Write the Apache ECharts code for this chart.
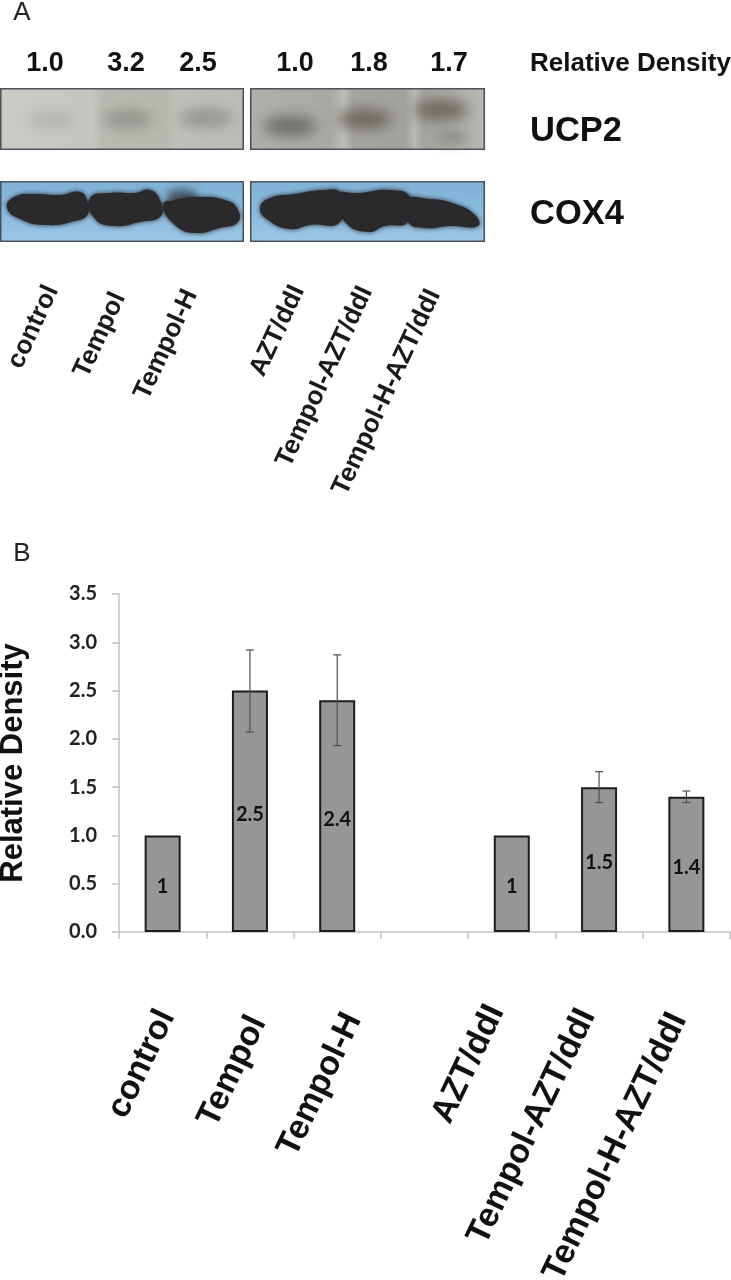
<!DOCTYPE html>
<html>
<head>
<meta charset="utf-8">
<style>html,body{margin:0;padding:0;background:#fff}#c{width:731px;height:1280px}</style>
<script src="https://cdn.jsdelivr.net/npm/echarts@6/dist/echarts.min.js"></script>
</head>
<body>
<div id="c"></div>
<script>
const categories = ['control','Tempol','Tempol-H','','AZT/ddI','Tempol-AZT/ddI','Tempol-H-AZT/ddI'];
const values = [1, 2.5, 2.4, null, 1, 1.5, 1.4];
const errLow = [null, 2.07, 1.93, null, null, 1.34, 1.34];
const errHigh = [null, 2.92, 2.87, null, null, 1.66, 1.46];
const blotValues = ['1.0','3.2','2.5','1.0','1.8','1.7'];
const blotLabelX = [45,126,198,295,369,449];
const blotLanes = ['control','Tempol','Tempol-H','AZT/ddI','Tempol-AZT/ddI','Tempol-H-AZT/ddI'];
const laneEndX = [52,119,191,298,366,434];
const laneEndY = [287,294,291,287,288,291];
const catLabelDx = [4,8,16,0,-16,-12,-8];
const catLabelDy = [80,86,83,0,75,79,83];

const chart = echarts.init(document.getElementById('c'), null, {renderer:'canvas'});
const SANS = '"Liberation Sans", Arial, sans-serif';
const LG = (stops, horiz=true) => new echarts.graphic.LinearGradient(0,0,horiz?1:0,horiz?0:1,
  stops.map((c)=>({offset:c[0],color:c[1]})));

function panel(x,y,w,h,fill){
  return {type:'rect',z:1,shape:{x:x+.75,y:y+.75,width:w-1.5,height:h-1.5},
    style:{fill,stroke:'#4e5358',lineWidth:1.6}};
}
// soft band: only the shadow of an off-canvas ellipse lands on the blot
function band(cx,cy,rx,ry,color,blur,opacity=1){
  return {type:'ellipse',z:2,x:cx-3000,y:cy,shape:{cx:0,cy:0,rx,ry},
    style:{fill:color,opacity,shadowBlur:blur,shadowColor:color,shadowOffsetX:3000}};
}
function blob(points,color='#2a2a2d',blur=5){
  return {type:'polygon',z:2,shape:{points,smooth:0.5},style:{fill:color,shadowBlur:blur,shadowColor:color}};
}
function label(text,x,y,size,opt={}){
  return {type:'text',z:5,x,y,rotation:opt.rot||0,
    style:{text,fontFamily:SANS,fontSize:size,fontWeight:opt.weight||'bold',fill:opt.color||'#111',
      align:opt.align||'center',verticalAlign:'middle'}};
}
const rad = d => d*Math.PI/180;

const g = [];
// UCP2 blot
g.push(panel(0,88,244,62,LG([[0,'#cbcbc6'],[.38,'#c6c6c0'],[.42,'#b9b9b2'],[.68,'#b8b8b1'],[.72,'#c0c0ba'],[1,'#bbbbb5']])));
g.push(panel(250,88,235,62,LG([[0,'#b0b0aa'],[.34,'#a9a9a3'],[.4,'#bdbdb7'],[.44,'#a5a59f'],[.66,'#a3a39d'],[.7,'#b8b8b2'],[.74,'#a3a39d'],[1,'#b8b8b2']])));
g.push(band(52,120,24,8,'#adada7',14,.8));
g.push(band(128,119,25,9,'#8f8f89',14,.9));
g.push(band(205,118,27,9,'#8f8f89',14,.9));
g.push(band(290,126,27,10,'#6e6e68',14,1));
g.push(band(365,119,27,10,'#6d6760',14,1));
g.push(band(441,110,27,10,'#6d6760',14,1));
g.push(band(452,137,16,7,'#8a8a84',12,.9));
// COX4 blot
g.push(panel(0,181,244,61,LG([[0,'#7fb2d8'],[.5,'#8abae0'],[1,'#9cc7e6']],false)));
g.push(panel(250,181,235,61,LG([[0,'#7fb2d8'],[.5,'#8abae0'],[1,'#9cc7e6']],false)));
g.push(blob([[7,208],[14,197],[35,194],[60,195],[80,192],[87,200],[88,214],[75,221],[45,225],[20,219]]));
g.push(blob([[90,198],[110,193],[135,193],[150,190],[160,200],[161,216],[140,222],[115,226],[95,219]]));
g.push(band(182,197,16,8,'#3f4c58',8,.9));
g.push(blob([[163,205],[175,200],[200,197],[225,200],[237,208],[238,222],[220,228],[195,233],[175,225]]));
g.push(blob([[260,208],[270,198],[295,194],[325,190],[340,193],[340,222],[310,225],[290,229],[268,220]]));
g.push(blob([[335,195],[360,193],[390,190],[410,197],[408,222],[385,226],[368,232],[345,222]]));
g.push(blob([[405,200],[430,199],[455,204],[475,215],[478,226],[450,226],[425,228],[408,222]]));
// Panel A text
g.push(label('A',22,13,26,{weight:'normal',color:'#222'}));
blotValues.forEach((t,i)=>g.push(label(t,blotLabelX[i],63.5,27)));
g.push(label('Relative Density',530,63.5,26,{align:'left'}));
g.push(label('UCP2',530,131,34.5,{align:'left'}));
g.push(label('COX4',530,214,34.5,{align:'left'}));
blotLanes.forEach((t,i)=>g.push(label(t,laneEndX[i],laneEndY[i],26,{rot:rad(65),align:'right',color:'#1a1a1a'})));
g.push(label('B',22,554,26,{weight:'normal',color:'#222'}));

chart.setOption({
  animation:false,
  backgroundColor:'#fff',
  graphic:g,
  grid:{left:119,top:594,width:611,height:338,containLabel:false,outerBoundsMode:'none'},
  xAxis:{type:'category',data:categories,boundaryGap:true,
    axisLine:{lineStyle:{color:'#c4c4c4',width:1.5}},
    axisTick:{show:true,interval:0,alignWithLabel:false,length:7,lineStyle:{color:'#c4c4c4',width:1.5}},
    axisLabel:{show:false,interval:0}},
  yAxis:{type:'value',min:0,max:3.5,interval:0.5,
    name:'Relative Density',nameLocation:'middle',nameGap:90,nameRotate:90,
    nameTextStyle:{fontFamily:SANS,fontWeight:'bold',fontSize:31,color:'#111'},
    splitLine:{show:false},
    axisLine:{show:true,lineStyle:{color:'#c4c4c4',width:1.5}},
    axisTick:{show:true,length:7,lineStyle:{color:'#c4c4c4',width:1.5}},
    axisLabel:{margin:22,fontFamily:'Lato, sans-serif',fontWeight:'bold',fontSize:20,color:'#222',
      formatter:v=>v.toFixed(1)}},
  series:[
    {type:'bar',data:values,barWidth:36,z:3,
      itemStyle:{color:'#969696',borderColor:'#1c1c1c',borderWidth:2},
      label:{show:true,position:'inside',offset:[0,3],fontFamily:'Lato, sans-serif',fontWeight:'bold',fontSize:20,color:'#111',
        formatter:p=>p.value==null?'':String(p.value)}},
    {type:'custom',z:4,silent:true,
      data:categories.map((c,i)=>[i,errLow[i],errHigh[i]]).filter(d=>d[1]!=null),
      renderItem:(params,api)=>{
        const a=api.coord([api.value(0),api.value(1)]), b=api.coord([api.value(0),api.value(2)]);
        const st={stroke:'#4f4f4f',lineWidth:1.2,fill:'none'};
        const cap=4;
        return {type:'group',children:[
          {type:'line',shape:{x1:a[0],y1:a[1],x2:b[0],y2:b[1]},style:st},
          {type:'line',shape:{x1:a[0]-cap,y1:a[1],x2:a[0]+cap,y2:a[1]},style:st},
          {type:'line',shape:{x1:b[0]-cap,y1:b[1],x2:b[0]+cap,y2:b[1]},style:st}
        ]};
      }},
    {type:'custom',z:5,silent:true,clip:false,
      data:categories.map((c,i)=>[i,0]).filter(d=>categories[d[0]]!==''),
      renderItem:(params,api)=>{
        const i=api.value(0), p=api.coord([i,0]);
        return {type:'text',x:p[0]+catLabelDx[i],y:p[1]+catLabelDy[i],rotation:rad(64.5),
          style:{text:categories[i],fontFamily:SANS,fontWeight:'bold',fontSize:34,fill:'#111',
            align:'right',verticalAlign:'middle'}};
      }}
  ]
});
</script>
</body>
</html>
